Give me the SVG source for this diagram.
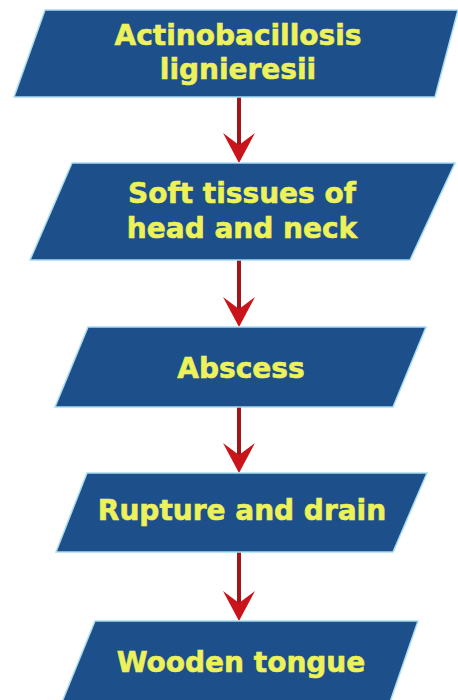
<svg xmlns="http://www.w3.org/2000/svg" width="458" height="700" viewBox="0 0 458 700">
  <defs>
    <style>
      .box { fill: #1d4f8b; stroke: #a8dcef; stroke-width: 1.5; }
      .lbl { font-family: "DejaVu Sans", Verdana, sans-serif; font-weight: bold; font-size: 28px; fill: #eef25a; stroke: #eef25a; stroke-width: 0.6; text-anchor: middle; }
      .stem { stroke: #a3141a; stroke-width: 4; fill: none; }
      .head { fill: #c8141a; }
    </style>
  </defs>
  <rect width="458" height="700" fill="#ffffff"/>
  <g id="connectors">
    <g id="c1"><line class="stem" x1="239" y1="97" x2="239" y2="148"/><path class="head" d="M239,163 L223,133 L239,145 L255,133 Z"/></g>
    <g id="c2"><line class="stem" x1="239" y1="260" x2="239" y2="312"/><path class="head" d="M239,327 L223,297 L239,309 L255,297 Z"/></g>
    <g id="c3"><line class="stem" x1="239" y1="407" x2="239" y2="458"/><path class="head" d="M239,473 L223,443 L239,455 L255,443 Z"/></g>
    <g id="c4"><line class="stem" x1="239" y1="552" x2="239" y2="606"/><path class="head" d="M239,621 L223,591 L239,603 L255,591 Z"/></g>
  </g>
  <g id="n1">
    <polygon class="box" points="45,10 458,10 435,97 14,97"/>
    <text class="lbl" x="238" y="45">Actinobacillosis</text>
    <text class="lbl" x="238" y="79">lignieresii</text>
  </g>
  <g id="n2">
    <polygon class="box" points="72,163 455,163 410,260 30,260"/>
    <text class="lbl" x="242" y="203">Soft tissues of</text>
    <text class="lbl" x="242" y="238">head and neck</text>
  </g>
  <g id="n3">
    <polygon class="box" points="88,327 426,327 393,407 55,407"/>
    <text class="lbl" x="241" y="378">Abscess</text>
  </g>
  <g id="n4">
    <polygon class="box" points="87,473 427,473 393,552 56,552"/>
    <text class="lbl" x="242" y="520">Rupture and drain</text>
  </g>
  <g id="n5">
    <polygon class="box" points="95,621 418,621 390,702 62,702"/>
    <text class="lbl" x="241" y="672">Wooden tongue</text>
  </g>
</svg>
